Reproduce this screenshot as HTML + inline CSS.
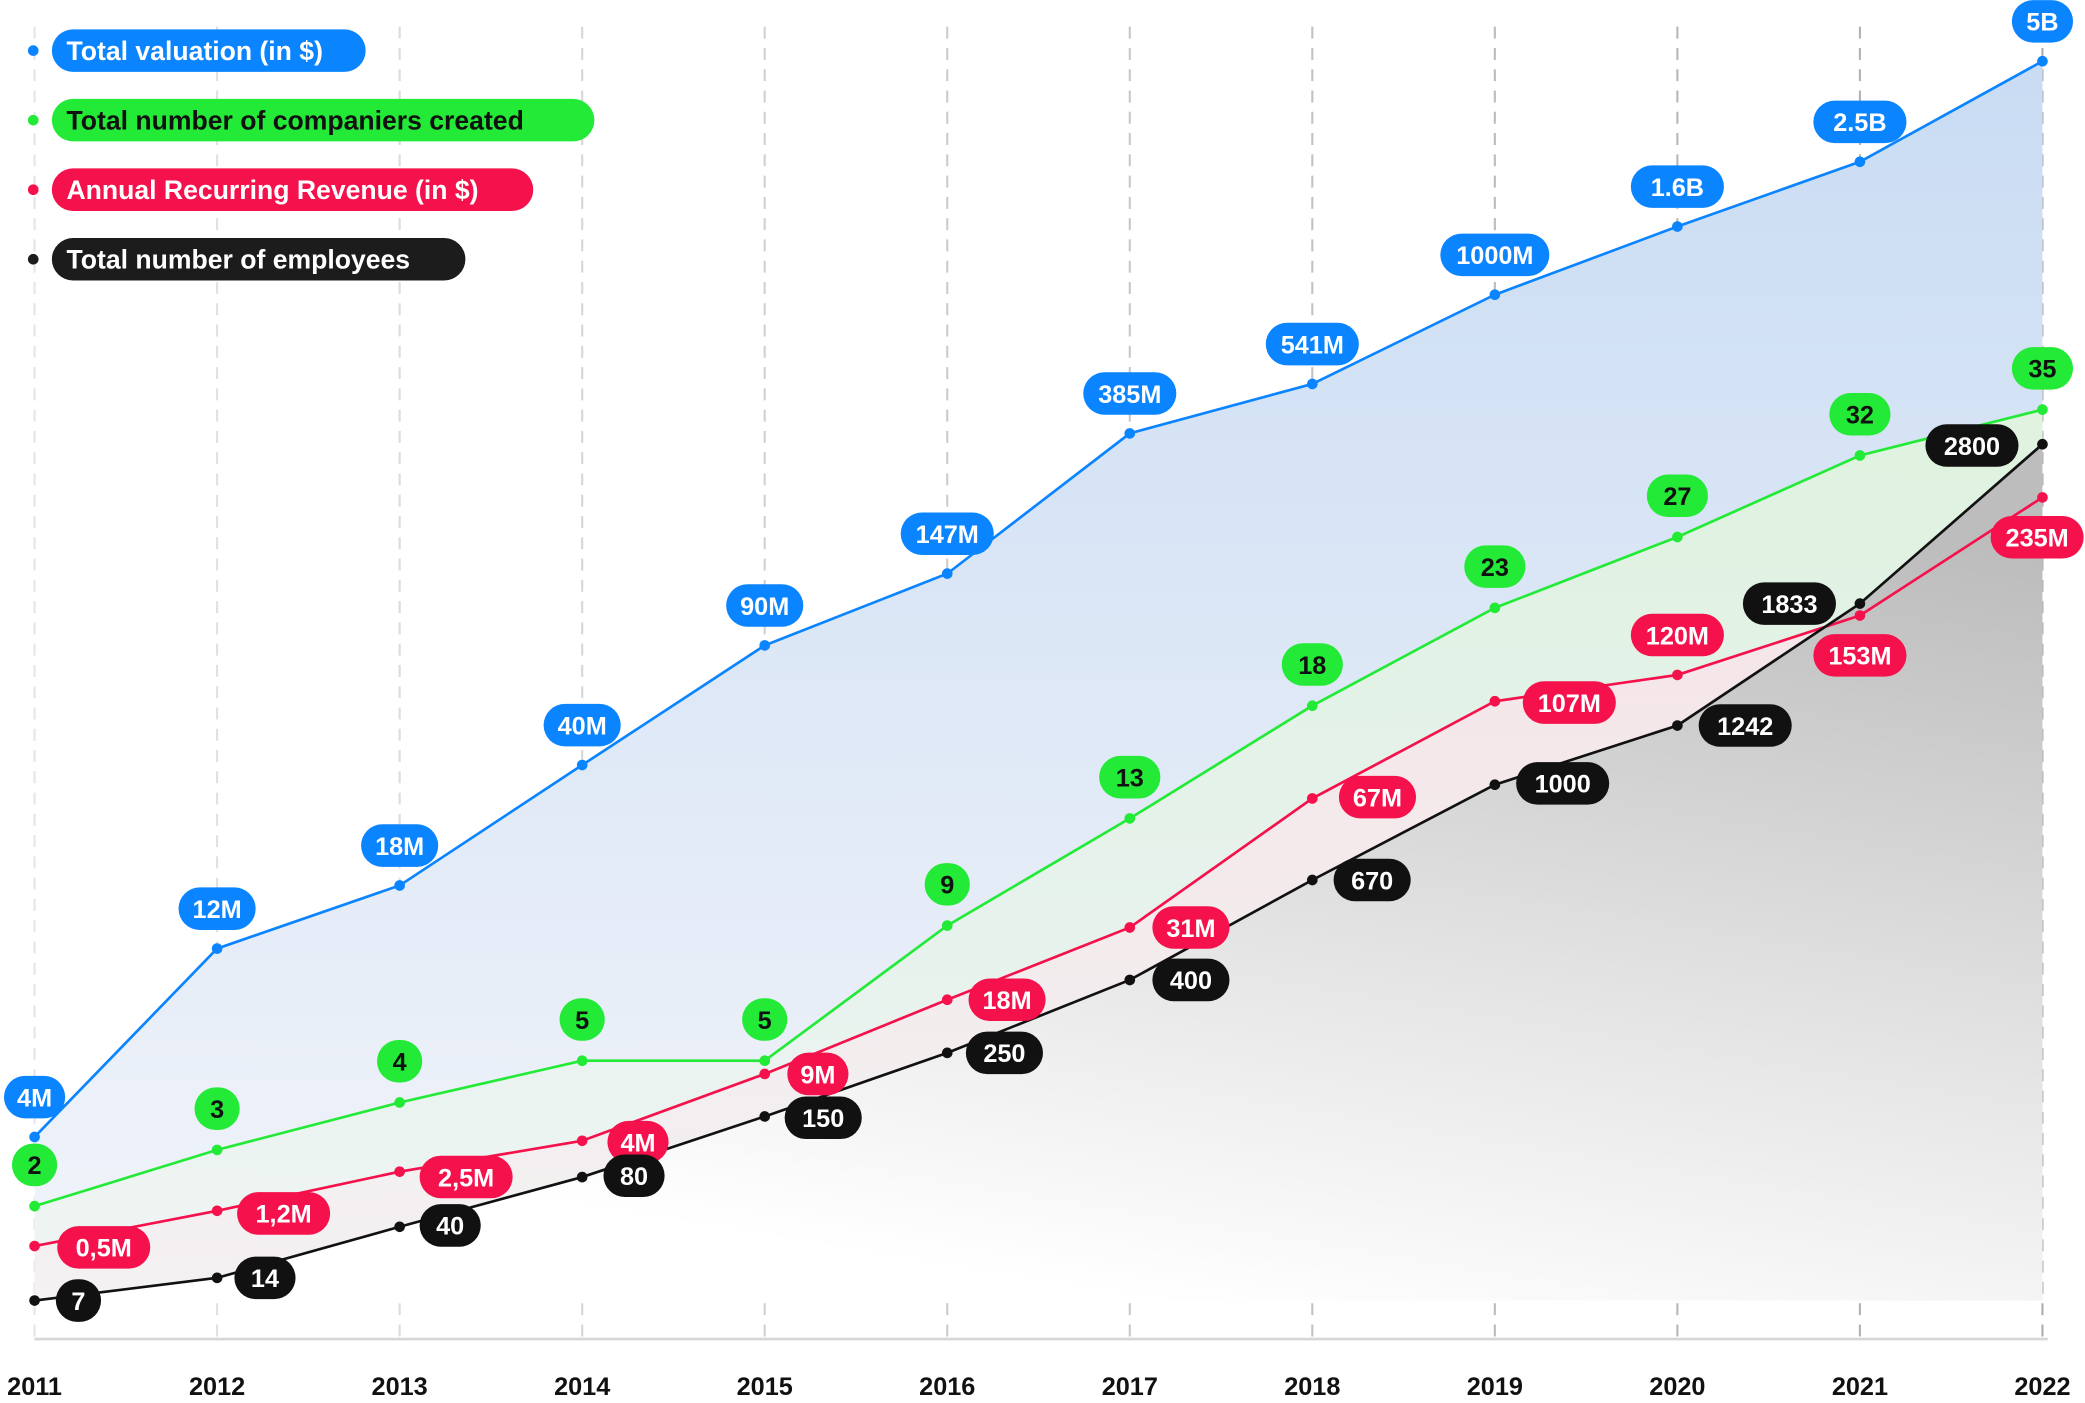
<!DOCTYPE html>
<html><head><meta charset="utf-8"><style>
html,body{margin:0;padding:0;background:#fff;}
svg{display:block;font-family:"Liberation Sans",sans-serif;}
</style></head><body>
<svg id="chart" width="2085" height="1403" viewBox="0 0 1568 1055" xmlns="http://www.w3.org/2000/svg">
<defs>
<linearGradient id="gBlue" x1="0" y1="0" x2="0" y2="1"><stop offset="0" stop-color="#c9dcf3"/><stop offset="1" stop-color="#f2f4fa"/></linearGradient>
<linearGradient id="gGreen" x1="0" y1="0" x2="0" y2="1"><stop offset="0" stop-color="#dff3df"/><stop offset="1" stop-color="#eef6ee" stop-opacity="0.5"/></linearGradient>
<linearGradient id="gRed" x1="0" y1="0" x2="0" y2="1"><stop offset="0" stop-color="#f7e2e8"/><stop offset="1" stop-color="#f8eef1" stop-opacity="0.5"/></linearGradient>
<linearGradient id="gGray" x1="0.9" y1="0.1" x2="0.55" y2="1"><stop offset="0" stop-color="#bdbdbd"/><stop offset="0.6" stop-color="#e6e6e6"/><stop offset="1" stop-color="#ffffff"/></linearGradient>
</defs>
<g id="grid"></g><g id="areas"></g><g id="lines"></g><g id="labels"></g><g id="legend"></g>
</svg>
<script>
const years = ["2011","2012","2013","2014","2015","2016","2017","2018","2019","2020","2021","2022"];
const valuation = [4,12,18,40,90,147,385,541,1000,1600,2500,5000];
const valuationLabels = ["4M","12M","18M","40M","90M","147M","385M","541M","1000M","1.6B","2.5B","5B"];
const companies = [2,3,4,5,5,9,13,18,23,27,32,35];
const companiesLabels = ["2","3","4","5","5","9","13","18","23","27","32","35"];
const revenue = [0.5,1.2,2.5,4,9,18,31,67,107,120,153,235];
const revenueLabels = ["0,5M","1,2M","2,5M","4M","9M","18M","31M","67M","107M","120M","153M","235M"];
const employees = [7,14,40,80,150,250,400,670,1000,1242,1833,2800];
const employeesLabels = ["7","14","40","80","150","250","400","670","1000","1242","1833","2800"];

const NS="http://www.w3.org/2000/svg";
const X0=26, X1=1536, BASE=978, AXIS=1007;
function x(i){return X0+(X1-X0)*i/(years.length-1);}
function makeScale(f,v0,v1,y0,y1){return v=>y0+(f(v)-f(v0))/(f(v1)-f(v0))*(y1-y0);}
const yVal=makeScale(v=>Math.log10(Math.max(v-1,0.01)),4,5000,855,46);
const yComp=makeScale(v=>Math.sqrt(v),2,35,907,308);
const yRev=makeScale(v=>Math.pow(v,0.35),0.5,235,937,374);
const yEmp=makeScale(v=>Math.pow(v,0.45),7,2800,978,334);
function el(tag,attrs,parent){const e=document.createElementNS(NS,tag);for(const k in attrs)e.setAttribute(k,attrs[k]);parent.appendChild(e);return e;}
const G=id=>document.getElementById(id);

years.forEach((yr,i)=>{
  const op=0.25+0.55*i/(years.length-1);
  const l=el("line",{x1:x(i),x2:x(i),y1:20,y2:AXIS,stroke:"#9a9a9a","stroke-opacity":op,"stroke-width":1.6,"stroke-dasharray":"9 7"},G("grid"));
  
  
  const t=el("text",{x:x(i),y:1049,"text-anchor":"middle","font-size":19,"font-weight":"bold",fill:"#111"},G("grid"));
  t.textContent=yr;
  
  
});
const ax=el("line",{x1:X0,x2:X1+4,y1:AXIS,y2:AXIS,stroke:"#d6d6d6","stroke-width":2},G("grid"));



const series=[
 {key:"valuation",vals:valuation,labs:valuationLabels,scale:yVal,color:"#0a84ff",fill:"url(#gBlue)",text:"#fff"},
 {key:"companies",vals:companies,labs:companiesLabels,scale:yComp,color:"#22ea36",fill:"url(#gGreen)",text:"#111"},
 {key:"revenue",vals:revenue,labs:revenueLabels,scale:yRev,color:"#f5114b",fill:"url(#gRed)",text:"#fff"},
 {key:"employees",vals:employees,labs:employeesLabels,scale:yEmp,color:"#111111",fill:"url(#gGray)",text:"#fff"}
];
const offs={
 valuation:years.map(()=>[0,-30]),
 companies:years.map(()=>[0,-31]),
 revenue:[[52,1],[50,2],[50,4],[42,1],[40,0],[45,0],[46,0],[49,-1],[56,1],[0,-30],[0,30],[-4,30]],
 employees:[[33,0],[36,0],[38,-1],[39,-1],[44,1],[43,0],[46,0],[45,0],[51,-1],[51,0],[-53,0],[-53,1]]
};
series.forEach(s=>{
  const pts=s.vals.map((v,i)=>[x(i),s.scale(v)]);
  const a=el("path",{d:"M"+pts.map(p=>p.join(",")).join("L")+`L${X1},${BASE}L${X0},${BASE}Z`,fill:s.fill},G("areas"));
  
  
});
series.forEach(s=>{
  const pts=s.vals.map((v,i)=>[x(i),s.scale(v)]);
  const l=el("polyline",{points:pts.map(p=>p.join(",")).join(" "),fill:"none",stroke:s.color,"stroke-width":2},G("lines"));
  
  
  pts.forEach((p,i)=>{
    const c=el("circle",{cx:p[0],cy:p[1],r:4,fill:s.color},G("lines"));
    
    
  });
});
series.forEach(s=>{
  s.vals.forEach((v,i)=>{
    const o=offs[s.key][i];
    const cx=x(i)+o[0], cy=s.scale(v)+o[1];
    const txt=s.labs[i];
    let w=txt.length*12+22; if(w<34)w=34;
    const g=el("g",{},G("labels"));
    
    
    el("rect",{x:cx-w/2,y:cy-16,width:w,height:32,rx:16,fill:s.color},g);
    const t=el("text",{x:cx,y:cy+7,"text-anchor":"middle","font-size":19,"font-weight":"bold",fill:s.text},g);
    t.textContent=txt;
  });
});
const legendItems=[["Total valuation (in $)","#0a84ff","#fff",236],["Total number of companiers created","#22ea36","#111",408],["Annual Recurring Revenue (in $)","#f5114b","#fff",362],["Total number of employees","#1c1c1c","#fff",311]];
legendItems.forEach((it,i)=>{
  const y=38+i*52.3;
  const g=el("g",{},G("legend"));
  
  
  el("circle",{cx:25,cy:y,r:4,fill:it[1]},g);
  el("rect",{x:39,y:y-16,width:it[3],height:32,rx:16,fill:it[1]},g);
  const t=el("text",{x:50,y:y+7,"font-size":20,"font-weight":"bold",fill:it[2]},g);
  t.textContent=it[0];
});
</script>
</body></html>
